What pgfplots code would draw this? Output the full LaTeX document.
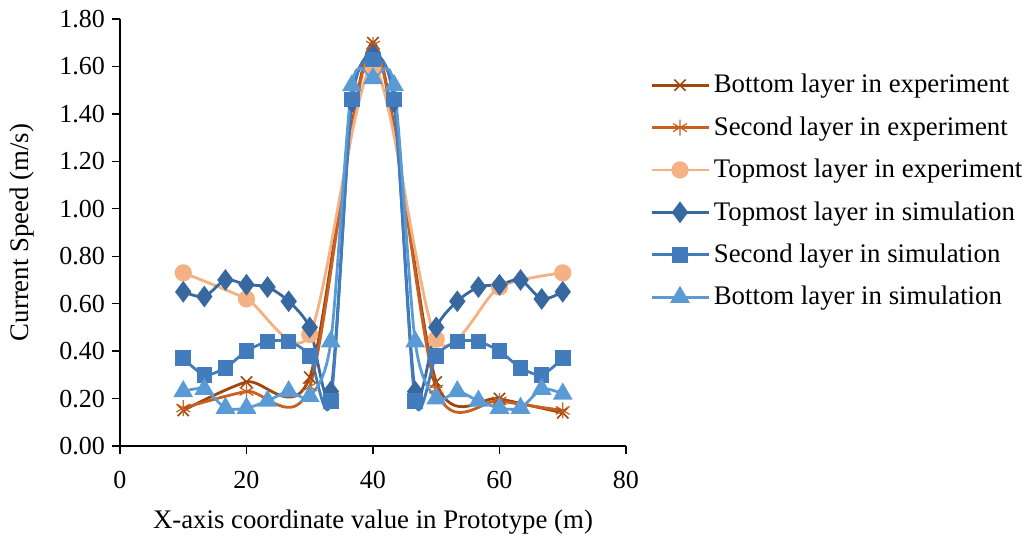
\documentclass[border=0pt]{standalone}
\usepackage{fontspec}
\setmainfont{Liberation Serif}
\usepackage{pgfplots}
\pgfplotsset{compat=1.18}
\usetikzlibrary{calc}

\definecolor{botexp}{RGB}{158,72,14}
\definecolor{secexp}{RGB}{200,95,35}
\definecolor{topexp}{RGB}{244,177,131}
\definecolor{topsim}{RGB}{56,104,160}
\definecolor{secsim}{RGB}{66,124,188}
\definecolor{botsim}{RGB}{91,155,213}

\begin{document}
\begin{tikzpicture}
\begin{axis}[
  scale only axis, width=253pt, height=213.5pt,
  xmin=0, xmax=80, ymin=0, ymax=1.8,
  xtick={0,20,40,60,80},
  ytick={0,0.2,0.4,0.6,0.8,1.0,1.2,1.4,1.6,1.8},
  axis x line=bottom, axis y line=left,
  axis line style={-, line width=0.7pt, black},
  tick style={line width=0.7pt, black},
  tick align=outside, major tick length=4pt,
  every tick label/.append style={font=\fontsize{13}{15}\selectfont},
  xticklabel style={yshift=-5pt},
  yticklabel style={/pgf/number format/.cd, fixed, fixed zerofill, precision=2},
  /pgf/number format/assume math mode=true,
  xlabel={X-axis coordinate value in Prototype (m)},
  ylabel={Current Speed (m/s)},
  label style={font=\fontsize{13.4}{16}\selectfont},
  xlabel style={at={(axis description cs:0.5,-0.178)}, anchor=center},
  ylabel style={at={(axis description cs:-0.194,0.5)}, anchor=center},
  clip=false,
  every axis plot/.append style={line width=1.4pt, smooth, tension=0.47},
  legend style={at={(axis description cs:1.043,0.89)}, anchor=north west,
    draw=none, fill=none, font=\fontsize{13.4}{16}\selectfont,
    row sep=6.4pt, cells={anchor=west}, inner xsep=1pt},
  legend cell align=left,
  legend image code/.code={
    \draw[mark repeat=2,mark phase=2] plot coordinates {(0cm,0cm) (0.5cm,0cm) (1cm,0cm)};},
]
\addplot[botexp, mark=x, mark size=4pt, mark options={solid, line width=0.8pt}]
  coordinates {(10,0.15) (20,0.27) (30,0.29) (40,1.70) (50,0.27) (60,0.20) (70,0.14)};
\addlegendentry{Bottom layer in experiment}
\addplot[secexp, mark=asterisk, mark size=4pt, mark options={solid, line width=0.6pt}]
  coordinates {(10,0.16) (20,0.23) (30,0.25) (40,1.69) (50,0.24) (60,0.19) (70,0.15)};
\addlegendentry{Second layer in experiment}
\addplot[topexp, mark=*, mark size=3.6pt, mark options={solid}]
  coordinates {(10,0.73) (20,0.62) (30,0.47) (40,1.60) (50,0.45) (60,0.67) (70,0.73)};
\addlegendentry{Topmost layer in experiment}
\addplot[topsim, mark=diamond*, mark size=4.3pt, mark options={solid}]
  coordinates {(10,0.65) (13.33,0.63) (16.67,0.70) (20,0.68) (23.33,0.67) (26.67,0.61) (30,0.50)
    (33.33,0.23) (36.67,1.45) (40,1.65) (43.33,1.45) (46.67,0.23) (50,0.50) (53.33,0.61)
    (56.67,0.67) (60,0.68) (63.33,0.70) (66.67,0.62) (70,0.65)};
\addlegendentry{Topmost layer in simulation}
\addplot[secsim, mark=square*, mark size=3.2pt, mark options={solid}]
  coordinates {(10,0.37) (13.33,0.30) (16.67,0.33) (20,0.40) (23.33,0.44) (26.67,0.44) (30,0.38)
    (33.33,0.19) (36.67,1.46) (40,1.63) (43.33,1.46) (46.67,0.19) (50,0.38) (53.33,0.44)
    (56.67,0.44) (60,0.40) (63.33,0.33) (66.67,0.30) (70,0.37)};
\addlegendentry{Second layer in simulation}
\addplot[botsim, mark=triangle*, mark size=4.3pt, mark options={solid}]
  coordinates {(10,0.23) (13.33,0.24) (16.67,0.16) (20,0.16) (23.33,0.19) (26.67,0.23) (30,0.21)
    (33.33,0.44) (36.67,1.52) (40,1.55) (43.33,1.52) (46.67,0.44) (50,0.20) (53.33,0.23)
    (56.67,0.19) (60,0.16) (63.33,0.16) (66.67,0.24) (70,0.22)};
\addlegendentry{Bottom layer in simulation}
\coordinate (sw) at (rel axis cs:0,0);
\coordinate (ne) at (rel axis cs:1,1);
\end{axis}
\pgfresetboundingbox
\path[use as bounding box] ($(sw)+(-60pt,-45pt)$) rectangle ($(ne)+(201.5pt,9.5pt)$);
\end{tikzpicture}
\end{document}
